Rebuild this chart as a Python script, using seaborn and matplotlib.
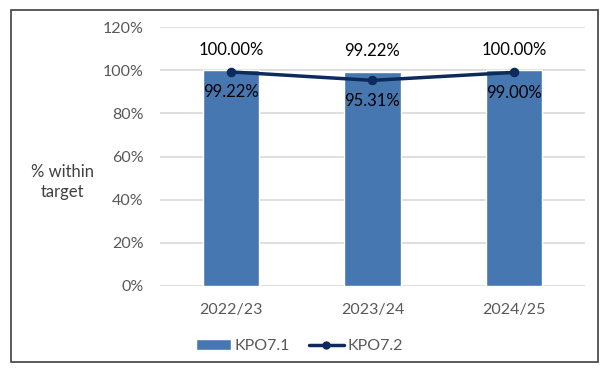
import pandas as pd
import seaborn as sns
import matplotlib.pyplot as plt
from matplotlib.patches import Rectangle
from matplotlib.lines import Line2D
from matplotlib.patches import Patch

years = ["2022/23", "2023/24", "2024/25"]
kpo71 = [100.00, 99.22, 100.00]
kpo72 = [99.22, 95.31, 99.00]

df = pd.DataFrame({"Year": years, "KPO7.1": kpo71, "KPO7.2": kpo72})

sns.set_style("white")
plt.rcParams["font.family"] = ["Lato", "DejaVu Sans"]

bar_col = "#4677B1"
line_col = "#0D2A5C"

fig = plt.figure(figsize=(6.11, 3.87), dpi=100)
ax = fig.add_axes([0.262, 0.261, 0.695, 0.669])

sns.barplot(data=df, x="Year", y="KPO7.1", color=bar_col, width=0.4,
            saturation=1, ax=ax, zorder=2)
sns.pointplot(data=df, x="Year", y="KPO7.2", color=line_col, markers="o",
              markersize=5, linewidth=2.5, ax=ax, zorder=3)

# etichette dei valori
ax.bar_label(ax.containers[0], labels=[f"{v:.2f}%" for v in kpo71],
             padding=9, fontsize=12, color="black")
for i, v in enumerate(kpo72):
    ax.annotate(f"{v:.2f}%", (i, v), xytext=(0, -9), textcoords="offset points",
                ha="center", va="top", fontsize=12, color="black", zorder=4)

ax.set_ylim(0, 120)
ax.set_yticks(range(0, 121, 20))
ax.set_yticklabels([f"{t}%" for t in range(0, 121, 20)])
ax.set_xlim(-0.5, 2.5)
ax.grid(axis="y", color="#D9D9D9", linewidth=1.2, zorder=0)
ax.set_axisbelow(True)
for s in ax.spines.values():
    s.set_visible(False)
ax.tick_params(axis="y", length=0, labelsize=11.5, labelcolor="#595959", pad=12)
ax.tick_params(axis="x", length=0, labelsize=11.5, labelcolor="#595959", pad=12)
ax.set_xlabel("")
ax.set_ylabel("")
fig.text(0.102, 0.53, "% within\ntarget", ha="center", va="center",
         fontsize=12, color="#404040", linespacing=1.3)

handles = [Patch(facecolor=bar_col, label="KPO7.1"),
           Line2D([], [], color=line_col, marker="o", markersize=5, linewidth=2.5, label="KPO7.2")]
fig.legend(handles=handles, loc="center", bbox_to_anchor=(0.49, 0.105), ncol=2,
           frameon=False, fontsize=11.5, handlelength=2.2, handletextpad=0.2,
           columnspacing=1.2, labelcolor="#595959")

fig.patches.append(Rectangle((0.018, 0.065), 0.961, 0.91, transform=fig.transFigure,
                             fill=False, edgecolor="#404040", linewidth=1.2))

fig.savefig("out.png", dpi=100)
